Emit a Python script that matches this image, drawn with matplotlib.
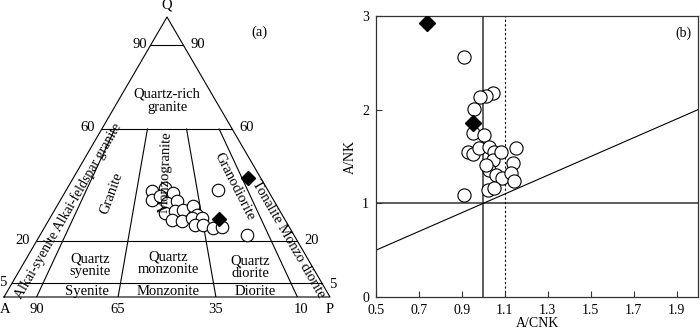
import matplotlib
matplotlib.use("Agg")
import matplotlib.pyplot as plt
import numpy as np

plt.rcParams['font.family'] = ['Liberation Serif', 'DejaVu Serif']
plt.rcParams['font.size'] = 10

# QAP modal data (%), circles = samples, diamonds = second group
qap_q = [37.8, 34.8, 38.9, 37.1, 36.0, 33.6, 34.2, 30.0, 30.6, 31.2, 27.6,
         27.0, 32.4, 29.4, 28.2, 28.2, 25.8, 25.8, 38.3, 24.6, 24.9, 22.1]
qap_a = [35.8, 37.3, 31.1, 29.5, 34.2, 33.3, 29.9, 35.6, 32.2, 29.4, 34.8,
         32.0, 25.7, 26.2, 28.3, 25.3, 28.5, 26.0, 15.1, 23.5, 20.8, 14.5]
qap_p = [26.4, 27.9, 29.9, 33.4, 29.9, 33.1, 35.9, 34.4, 37.2, 39.4, 37.6,
         41.0, 41.9, 44.4, 43.5, 46.5, 45.7, 48.2, 46.6, 51.9, 54.3, 63.4]
dia_q = [42.4, 27.9]
dia_a = [3.9, 20.1]
dia_p = [53.7, 52.0]

# A/CNK vs A/NK
acnk = [1.043, 1.013, 0.985, 0.955, 0.950, 1.005, 0.927, 0.950, 0.981, 1.028,
        1.051, 1.043, 1.082, 1.151, 1.139, 1.028, 1.059, 1.089, 1.128, 1.144,
        1.020, 0.912, 0.909, 1.012, 1.051]
ank = [2.181, 2.146, 2.132, 2.004, 1.748, 1.729, 1.551, 1.527, 1.587, 1.605,
       1.551, 1.463, 1.551, 1.594, 1.427, 1.356, 1.302, 1.267, 1.321, 1.242,
       1.142, 1.089, 2.565, 1.410, 1.160]
dia_acnk = [0.739, 0.954]
dia_ank = [2.92, 1.861]

ratio_lines = [0.10, 0.35, 0.65, 0.90]
q_levels = [0.90, 0.60, 0.20, 0.05]
base_ticks = ['90', '65', '35', '10']
xticks_b = [0.5, 0.7, 0.9, 1.1, 1.3, 1.5, 1.7, 1.9]


def tern(q, a, p):
    q = np.asarray(q, float); a = np.asarray(a, float); p = np.asarray(p, float)
    s = q + a + p
    return p / s + q / s / 2, q / s


fig = plt.figure(figsize=(7, 3.32), dpi=100)

# ---------- (a) QAP triangle ----------
ax = fig.add_axes([4 / 700, 35 / 332, 326 / 700, 280 / 332])
ax.set_xlim(0, 1)
ax.set_ylim(0, 1)
ax.set_axis_off()
lw = 0.8
ax.plot([0, 1, 0.5, 0], [0, 0, 1, 0], color='black', lw=lw, clip_on=False)
for q in q_levels:
    ax.plot([q / 2, 1 - q / 2], [q, q], color='black', lw=lw)
for r in ratio_lines:
    qq = np.array([0.6, 0.0])
    ax.plot(r * (1 - qq) + qq / 2, qq, color='black', lw=lw)

tx, ty = tern(qap_q, qap_a, qap_p)
ax.plot(tx, ty, 'o', ms=9, mfc='white', mec='black', mew=0.8, ls='none', clip_on=False)
dx, dy = tern(dia_q, dia_a, dia_p)
ax.plot(dx, dy, 'D', ms=7.5, mfc='black', mec='black', ls='none', clip_on=False)

kw = dict(ha='center', va='center', clip_on=False)
fs = 10.5
ax.text(0.5, 1.043, 'Q', fontsize=fs, **kw)
ax.text(0.418, 0.9, '90', fontsize=fs, **kw)
ax.text(0.595, 0.9, '90', fontsize=fs, **kw)
ax.text(0.258, 0.604, '60', fontsize=fs, **kw)
ax.text(0.745, 0.604, '60', fontsize=fs, **kw)
ax.text(0.058, 0.2, '20', fontsize=fs, **kw)
ax.text(0.945, 0.2, '20', fontsize=fs, **kw)
ax.text(-0.003, 0.05, '5', fontsize=fs, **kw)
ax.text(1.008, 0.046, '5', fontsize=fs, **kw)
ax.text(0.003, -0.045, 'A', fontsize=fs, **kw)
for r, lab in zip(ratio_lines, base_ticks):
    ax.text(r + (0.012 if r > 0.8 else 0), -0.045, lab, fontsize=fs, **kw)
ax.text(1.0, -0.045, 'P', fontsize=fs, **kw)
ax.text(0.785, 0.946, '(a)', fontsize=fs, **kw)

ax.text(0.5, 0.701, 'Quartz-rich\ngranite', linespacing=1.0, fontsize=fs, **kw)
ax.text(0.331, 0.371, 'Granite', rotation=70, fontsize=fs, **kw)
ax.text(0.497, 0.446, 'Monzogranite', rotation=88, fontsize=fs, **kw)
ax.text(0.706, 0.396, 'Granodiorite', rotation=-63, fontsize=fs, **kw)
ax.text(0.873, 0.208, 'Tonalite Monzo diorite', rotation=-60, fontsize=fs, **kw)
ax.text(0.196, 0.306, 'Alkai-syenite Alkai-feldspar granite', rotation=60,
        fontsize=10, **kw)
ax.text(0.264, 0.114, 'Quartz\nsyenite', linespacing=1.0, fontsize=fs, **kw)
ax.text(0.503, 0.121, 'Quartz\nmonzonite', linespacing=1.0, fontsize=fs, **kw)
ax.text(0.755, 0.107, 'Quartz\ndiorite', linespacing=1.0, fontsize=fs, **kw)
ax.text(0.255, 0.021, 'Syenite', fontsize=fs, **kw)
ax.text(0.503, 0.018, 'Monzonite', fontsize=fs, **kw)
ax.text(0.770, 0.018, 'Diorite', fontsize=fs, **kw)

# ---------- (b) A/CNK vs A/NK ----------
bx = fig.add_axes([376 / 700, 35 / 332, 322 / 700, 281 / 332])
bx.set_xlim(0.5, 2.0)
bx.set_ylim(0, 3)
for s in bx.spines.values():
    s.set_linewidth(0.9)
    s.set_color('#333333')
bx.axvline(1.0, color='#333333', lw=1.1, zorder=1)
bx.axhline(1.0, color='#333333', lw=1.1, zorder=1)
bx.axvline(1.1, color='black', lw=0.8, ls=(0, (2, 2)), zorder=1)
xx = np.array([0.5, 2.0])
bx.plot(xx, xx, color='black', lw=0.8, zorder=1)
bx.plot(acnk, ank, 'o', ms=9.5, mfc='white', mec='black', mew=0.8, ls='none', zorder=3)
bx.plot(dia_acnk, dia_ank, 'D', ms=8, mfc='black', mec='black', ls='none', zorder=4)

bx.set_xticks(xticks_b)
bx.set_xticklabels([f'{v:.1f}' for v in xticks_b])
bx.set_yticks([0, 1, 2, 3])
bx.tick_params(direction='in', length=4, width=0.8, color='#333333', pad=5)
bx.set_xlabel('A/CNK', labelpad=0)
bx.set_ylabel('A/NK', labelpad=4)
bx.text(0.955, 0.94, '(b)', transform=bx.transAxes, ha='center', va='center')

fig.savefig('out.png', dpi=100)
